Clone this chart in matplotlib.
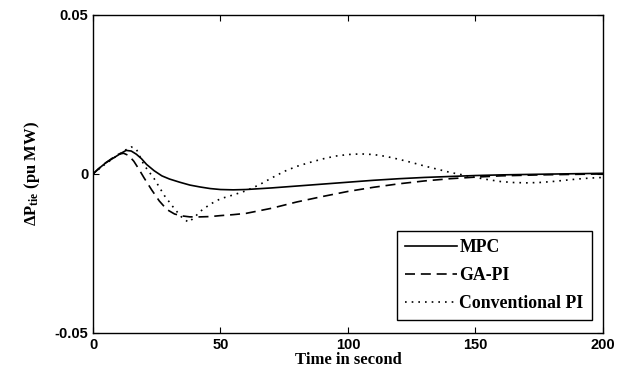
import matplotlib
matplotlib.use('Agg')
import matplotlib.pyplot as plt

# valores
t_mpc = [0, 2, 5, 8, 11, 13, 15, 17, 19, 21, 24, 27, 30, 34, 38, 42, 46, 50, 55, 60,
         70, 80, 90, 100, 110, 120, 130, 140, 150, 160, 175, 200]
mpc = [0, 0.0015, 0.0035, 0.005, 0.0065, 0.0074, 0.0072, 0.0062, 0.0048, 0.0030,
       0.0010, -0.0006, -0.0016, -0.0026, -0.0035, -0.0041, -0.0046, -0.0049, -0.0050,
       -0.0049, -0.0044, -0.0038, -0.0032, -0.0026, -0.0020, -0.0015, -0.0011, -0.0008,
       -0.0005, -0.0003, -0.0001, 0.0002]

t_ga = [0, 2, 5, 8, 10, 12, 14, 16, 18, 20, 23, 26, 29, 32, 35, 38, 42, 46, 50, 55, 60,
        70, 80, 90, 100, 110, 120, 130, 140, 150, 160, 175, 200]
ga_pi = [0, 0.0015, 0.0035, 0.0052, 0.0062, 0.0065, 0.0058, 0.0040, 0.0015, -0.0012,
         -0.0050, -0.0085, -0.0112, -0.0126, -0.0132, -0.0135, -0.0135, -0.0134, -0.0131,
         -0.0128, -0.0124, -0.0108, -0.0088, -0.0071, -0.0055, -0.0042, -0.0031, -0.0022,
         -0.0015, -0.0010, -0.0006, -0.0003, 0.0]

t_pi = [0, 3, 6, 9, 12, 15, 17, 20, 24, 28, 32, 35, 37.5, 40, 42, 46, 50, 55, 60, 65, 70,
        75, 80, 85, 90, 95, 100, 105, 110, 115, 120, 125, 130, 135, 140, 145, 150, 155,
        160, 165, 170, 175, 180, 185, 190, 195, 200]
conv_pi = [0, 0.002, 0.0038, 0.0055, 0.0072, 0.0085, 0.0078, 0.0028, -0.0015, -0.0068,
           -0.0110, -0.0138, -0.0152, -0.0135, -0.0118, -0.0095, -0.0078, -0.0066, -0.0053,
           -0.0035, -0.0013, 0.0008, 0.0024, 0.0036, 0.0047, 0.0056, 0.0061, 0.0063, 0.0061,
           0.0055, 0.0046, 0.0036, 0.0025, 0.0015, 0.0005, -0.0003, -0.0011, -0.0018,
           -0.0024, -0.0027, -0.0028, -0.0027, -0.0024, -0.0020, -0.0016, -0.0013, -0.0011]

plt.rcParams['mathtext.fontset'] = 'custom'
plt.rcParams['mathtext.rm'] = 'Liberation Serif:bold'
plt.rcParams['mathtext.it'] = 'Liberation Serif:bold'

fig = plt.figure(figsize=(6.31, 3.76), dpi=100)
ax = fig.add_axes([0.1474, 0.1144, 0.808, 0.846])

ax.plot(t_mpc, mpc, color='black', lw=1.2, linestyle='-', label='MPC')
ax.plot(t_ga, ga_pi, color='black', lw=1.2, linestyle=(0, (6, 3.5)), label='GA-PI')
ax.plot(t_pi, conv_pi, color='black', lw=1.2, linestyle=(0, (1, 3)), label='Conventional PI')

ax.set_xlim(0, 200)
ax.set_ylim(-0.05, 0.05)
ax.set_xticks([0, 50, 100, 150, 200])
ax.set_yticks([-0.05, 0, 0.05])
ax.set_yticklabels(['-0.05', '0', '0.05'])
ax.tick_params(direction='in', top=True, right=True, length=4, width=0.8,
               labelsize=10.5)
for lab in ax.get_xticklabels() + ax.get_yticklabels():
    lab.set_fontfamily('Liberation Sans')
    lab.set_fontweight('bold')
for s in ax.spines.values():
    s.set_linewidth(1.0)

ax.set_xlabel('Time in second', fontfamily='Liberation Serif', fontweight='bold',
              fontsize=12, labelpad=0)
ax.set_ylabel(r'$\Delta\mathrm{P}_{\mathrm{tie}}$ (pu MW)', fontfamily='Liberation Serif',
              fontweight='bold', fontsize=12, labelpad=9)

leg = ax.legend(loc='lower right', bbox_to_anchor=(0.978, 0.04), fancybox=False,
                edgecolor='black', handlelength=2.9, handletextpad=0.15,
                borderpad=0.45, labelspacing=0.62, borderaxespad=0,
                prop={'family': 'Liberation Serif', 'weight': 'bold', 'size': 12.8})
leg.get_frame().set_linewidth(1.0)
leg.get_frame().set_alpha(1)

fig.savefig('out.png', dpi=100)
